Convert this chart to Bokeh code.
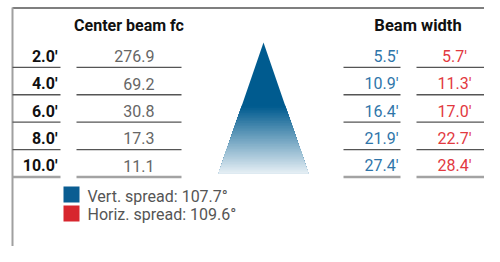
from bokeh.plotting import figure
from bokeh.models import Range1d, ColumnDataSource
from bokeh.core.properties import value
from bokeh.embed import file_html
from bokeh.resources import INLINE

# ---- data ----
distances = ["2.0'", "4.0'", "6.0'", "8.0'", "10.0'"]
center_fc = [276.9, 69.2, 30.8, 17.3, 11.1]
vert_width = [5.5, 10.9, 16.4, 21.9, 27.4]
horiz_width = [5.7, 11.3, 17.0, 22.7, 28.4]
vert_spread = 107.7
horiz_spread = 109.6

FONT = value("Roboto")
FS = "16px"
BLUE = "#0a5d92"
RED = "#d7262e"
BLUE_TXT = "#2f75a9"
RED_TXT = "#e2393f"
DY = -5.2          # correction for how the svg places the text baseline

W, H = 484, 246
p = figure(width=W, height=H, output_backend="svg", toolbar_location=None,
           x_range=Range1d(0, W), y_range=Range1d(H, 0), min_border=0)
p.axis.visible = False
p.grid.visible = False
p.outline_line_color = None
p.background_fill_color = "white"

# frame lines
p.segment(x0=[12], y0=[7.5], x1=[500], y1=[7.5], line_color="#555555", line_width=1.5)
p.segment(x0=[12], y0=[7], x1=[12], y1=[262], line_color="#a0a0a0", line_width=2)

# beam triangle with gradient (overlapping trapezoids painted top to bottom)
apex_x, apex_y, base_y, half_w = 263.0, 42.0, 173.0, 45.0
c0 = (0x00, 0x5b, 0x8f)
c1 = (0xe6, 0xef, 0xf5)
n = 80
xs, ys, cols = [], [], []
xs.append([apex_x, apex_x + half_w, apex_x - half_w])
ys.append([apex_y, base_y, base_y])
cols.append("#%02x%02x%02x" % c0)
for k in range(n):
    ya = apex_y + (base_y - apex_y) * k / n
    if ya < 104:
        continue
    wa = half_w * (ya - apex_y) / (base_y - apex_y)
    xs.append([apex_x - wa, apex_x + wa, apex_x + half_w, apex_x - half_w])
    ys.append([ya, ya, base_y, base_y])
    yb = apex_y + (base_y - apex_y) * (k + 1) / n
    ym = (ya + yb) / 2
    t = min(max((ym - 106) / (base_y - 106), 0), 1)
    c = tuple(int(round(c0[i] + (c1[i] - c0[i]) * t)) for i in range(3))
    cols.append("#%02x%02x%02x" % c)
p.patches(xs=xs, ys=ys, fill_color=cols, line_color=None)

# rows
base0, pitch = 60.8, 27.45
rows = list(range(len(distances)))
baselines = [base0 + pitch * i for i in rows]
seps = [b + 6.0 for b in baselines]

src = ColumnDataSource(dict(
    y=[b + DY for b in baselines],
    dist=distances,
    fc=["%.1f" % v for v in center_fc],
    vw=["%.1f'" % v for v in vert_width],
    hw=["%.1f'" % v for v in horiz_width],
))

# separators
col_spans = [(12, 60), (76, 181), (343, 400), (416, 493)]
for (a, b) in col_spans:
    p.segment(x0=[a] * 4, y0=seps[:-1], x1=[b] * 4, y1=seps[:-1],
              line_color="#555555", line_width=1.3)
    p.segment(x0=[a], y0=[seps[-1]], x1=[b], y1=[seps[-1]],
              line_color="#a3a3a3", line_width=2.5)

# headers
p.text(x=[128.5], y=[30 - 5.3], text=["Center beam fc"],
       text_font=FONT, text_font_size="16px", text_font_style="bold",
       text_color="#111111", text_align="center", text_baseline="alphabetic")
p.text(x=[417.5], y=[30 - 5.4], text=["Beam width"],
       text_font=FONT, text_font_size="16.5px", text_font_style="bold",
       text_color="#111111", text_align="center", text_baseline="alphabetic")

p.text(x=57, y="y", text="dist", source=src, text_font=FONT, text_font_size=FS,
       text_font_style="bold", text_color="#111111", text_align="right",
       text_baseline="alphabetic")
p.text(x=154, y="y", text="fc", source=src, text_font=FONT, text_font_size=FS,
       text_color="#666666", text_align="right", text_baseline="alphabetic")
p.text(x=398, y="y", text="vw", source=src, text_font=FONT, text_font_size=FS,
       text_color=BLUE_TXT, text_align="right", text_baseline="alphabetic")
p.text(x=454, y="y", text="hw", source=src, text_font=FONT, text_font_size=FS,
       text_color=RED_TXT, text_align="center", text_baseline="alphabetic")

# legend
p.quad(left=[63, 63], right=[79, 79], top=[186, 205], bottom=[202, 221],
       fill_color=[BLUE, RED], line_color=None)
p.text(x=[87, 87], y=[201.5 + DY, 219.5 + DY],
       text=["Vert. spread: %.1f°" % vert_spread, "Horiz. spread: %.1f°" % horiz_spread],
       text_font=FONT, text_font_size=FS, text_color="#555555",
       text_align="left", text_baseline="alphabetic")

open("out.html", "w").write(file_html(p, INLINE))
